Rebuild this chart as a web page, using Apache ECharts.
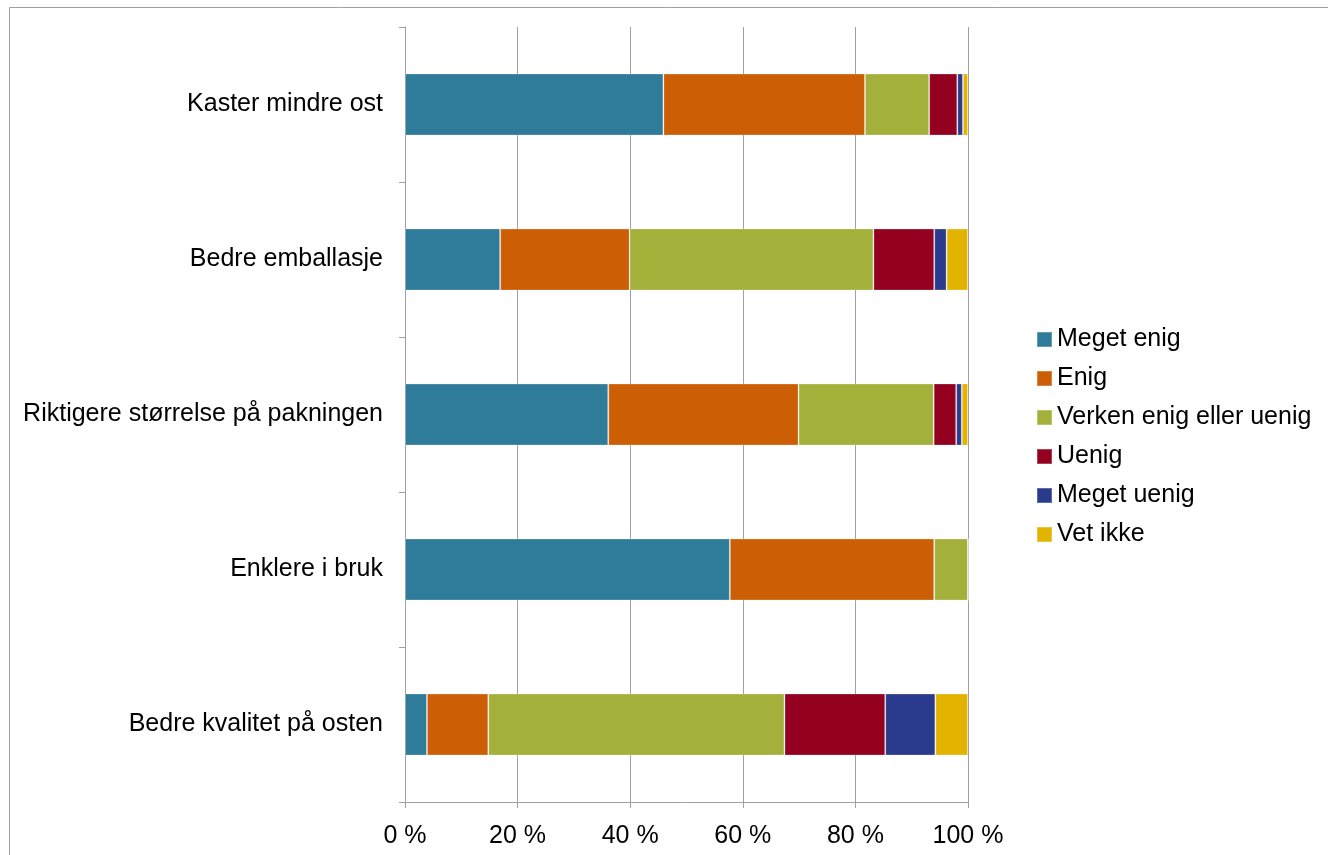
<!DOCTYPE html>
<html>
<head>
<meta charset="utf-8">
<script src="https://cdn.jsdelivr.net/npm/echarts@6/dist/echarts.min.js"></script>
<style>
  html, body { margin: 0; padding: 0; background: #fff; }
  #chart { width: 1328px; height: 855px; }
</style>
</head>
<body>
<div id="chart"></div>
<script>
// Statements, top to bottom
const categories = [
  'Kaster mindre ost',
  'Bedre emballasje',
  'Riktigere størrelse på pakningen',
  'Enklere i bruk',
  'Bedre kvalitet på osten'
];

// Share of answers (%) per statement
const megetEnig   = [45.9, 16.9, 36.1, 57.7, 3.9];
const enig        = [35.8, 23.0, 33.8, 36.3, 10.9];
const verken      = [11.4, 43.3, 24.0, 6.0, 52.6];
const uenig       = [5.0, 10.8, 4.0, 0, 17.9];
const megetUenig  = [1.0, 2.2, 1.0, 0, 8.9];
const vetIkke     = [0.9, 3.8, 1.1, 0, 5.8];

const seriesNames = ['Meget enig', 'Enig', 'Verken enig eller uenig', 'Uenig', 'Meget uenig', 'Vet ikke'];
const seriesData = [megetEnig, enig, verken, uenig, megetUenig, vetIkke];
const colors = ['#2f7b9a', '#cc5e05', '#a3b03a', '#930020', '#2a3b8e', '#e2b400'];

const xTicks = [0, 20, 40, 60, 80, 100];

const FONT = '"Liberation Sans", Arial, sans-serif';
const GRID_COLOR = '#a0a0a0';

const chart = echarts.init(document.getElementById('chart'), null, { renderer: 'canvas' });

chart.setOption({
  animation: false,
  backgroundColor: '#ffffff',
  textStyle: { fontFamily: FONT, color: '#000' },
  graphic: [{
    type: 'rect',
    shape: { x: 9.5, y: 7.5, width: 1330, height: 860 },
    style: { fill: 'none', stroke: GRID_COLOR, lineWidth: 1 },
    silent: true
  }],
  grid: { left: 405, right: 360, top: 27, bottom: 53, containLabel: false },
  legend: {
    orient: 'vertical',
    left: 1036,
    top: 327,
    padding: 0,
    itemWidth: 15,
    itemHeight: 15,
    itemGap: 14,
    icon: 'rect',
    textStyle: { fontFamily: FONT, fontSize: 25, color: '#000', padding: [0, 0, 0, 0] },
    data: seriesNames
  },
  xAxis: {
    type: 'value',
    min: xTicks[0],
    max: xTicks[xTicks.length - 1],
    interval: 20,
    axisLine: { show: true, lineStyle: { color: GRID_COLOR } },
    axisTick: { show: true, length: 6, lineStyle: { color: GRID_COLOR } },
    splitLine: { show: true, lineStyle: { color: GRID_COLOR, width: 1 } },
    axisLabel: {
      formatter: '{value} %',
      fontFamily: FONT,
      fontSize: 25,
      color: '#000',
      margin: 22
    }
  },
  yAxis: {
    type: 'category',
    inverse: true,
    data: categories,
    axisLine: { show: true, lineStyle: { color: GRID_COLOR } },
    axisTick: { show: true, length: 6, lineStyle: { color: GRID_COLOR } },
    axisLabel: {
      fontFamily: FONT,
      fontSize: 25,
      color: '#000',
      margin: 22,
      padding: [5, 0, 0, 0]
    },
    splitLine: { show: false }
  },
  series: seriesNames.map((name, i) => ({
    name: name,
    type: 'bar',
    stack: 'total',
    barWidth: '40%',
    data: seriesData[i],
    itemStyle: {
      color: colors[i],
      borderColor: 'rgba(255,255,255,0.25)',
      borderWidth: 1
    }
  }))
});
</script>
</body>
</html>
